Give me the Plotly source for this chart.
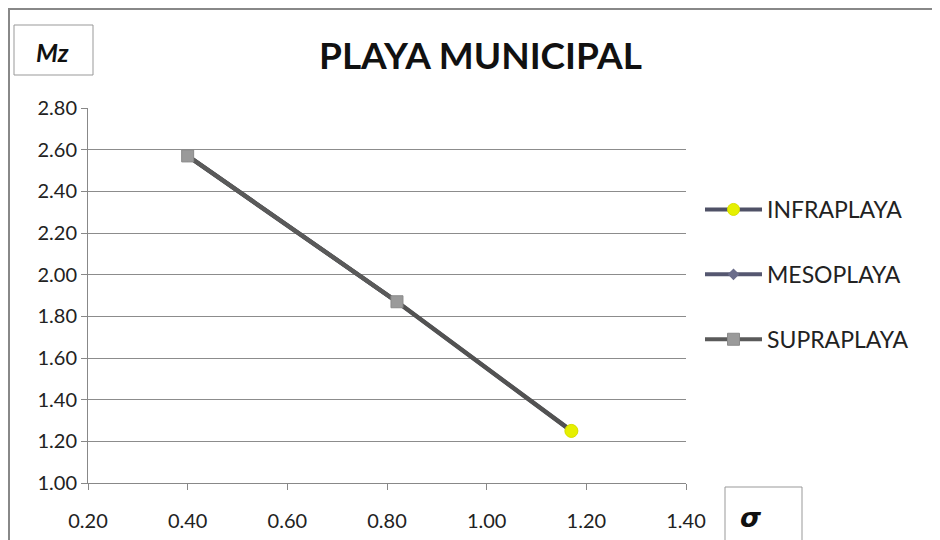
import plotly.graph_objects as go

# Data
sigma_infra = [1.17]
mz_infra = [1.25]
sigma_meso = [0.40, 0.82, 1.17]
mz_meso = [2.57, 1.87, 1.25]
sigma_supra = [0.40, 0.82]
mz_supra = [2.57, 1.87]
x_ticks = [0.20, 0.40, 0.60, 0.80, 1.00, 1.20, 1.40]
y_ticks = [1.00, 1.20, 1.40, 1.60, 1.80, 2.00, 2.20, 2.40, 2.60, 2.80]

OFF = 8  # page body margin
W, H = 940 - OFF, 540 - OFF
L, R, T, B = 88 - OFF, 254, 108 - OFF, 57
PW, PH = W - L - R, H - T - B

def px(x):
    return (x - OFF - L) / PW

def py(y):
    return (H - B - (y - OFF)) / PH

FONT = "Lato, Open Sans, sans-serif"

fig = go.Figure()
fig.add_trace(go.Scatter(
    x=sigma_infra, y=mz_infra, name="INFRAPLAYA", mode="lines+markers",
    legendgroup="a",
    line=dict(color="#4f5166", width=4),
    marker=dict(color="#e6f000", size=12, symbol="circle", line=dict(color="#d8e000", width=1))))
fig.add_trace(go.Scatter(
    x=sigma_meso, y=mz_meso, name="MESOPLAYA", mode="lines+markers",
    legendgroup="b",
    line=dict(color="#555770", width=4),
    marker=dict(color="#6a6c8a", size=9, symbol="diamond")))
# gray line over the full path
fig.add_trace(go.Scatter(
    x=sigma_meso, y=mz_meso, mode="lines", showlegend=False, hoverinfo="skip",
    line=dict(color="#525252", width=4.5)))
fig.add_trace(go.Scatter(
    x=sigma_supra, y=mz_supra, name="SUPRAPLAYA", mode="lines+markers",
    legendgroup="c",
    line=dict(color="#5a5a5a", width=4),
    marker=dict(color="#9a9a9a", size=12, symbol="square", line=dict(color="#8a8a8a", width=1))))
# keep infra marker on top
fig.add_trace(go.Scatter(
    x=sigma_infra, y=mz_infra, mode="markers", showlegend=False, hoverinfo="skip",
    marker=dict(color="#e6f000", size=13, symbol="circle", line=dict(color="#d8e000", width=1))))

shapes = [
    # outer border
    dict(type="line", xref="paper", yref="paper", x0=px(8), x1=px(940), y0=py(9), y1=py(9),
         line=dict(color="#888888", width=2)),
    dict(type="line", xref="paper", yref="paper", x0=px(9), x1=px(9), y0=py(8), y1=py(540),
         line=dict(color="#888888", width=2)),
    # Mz box
    dict(type="rect", xref="paper", yref="paper", x0=px(14), x1=px(93), y0=py(25), y1=py(75),
         line=dict(color="#999999", width=1), fillcolor="white"),
    # sigma box
    dict(type="rect", xref="paper", yref="paper", x0=px(725), x1=px(802), y0=py(487), y1=py(545),
         line=dict(color="#999999", width=1), fillcolor="white"),
]

annotations = [
    dict(text="<b>PLAYA MUNICIPAL</b>", xref="paper", yref="paper", x=px(480), y=py(54),
         showarrow=False, xanchor="center", yanchor="middle",
         font=dict(family=FONT, size=37, color="#111111")),
    dict(text="<b><i>Mz</i></b>", xref="paper", yref="paper", x=px(52), y=py(52),
         showarrow=False, xanchor="center", yanchor="middle",
         font=dict(family=FONT, size=25, color="#111111")),
    dict(text="<b><i>σ</i></b>", xref="paper", yref="paper", x=px(751), y=py(517),
         showarrow=False, xanchor="center", yanchor="middle",
         font=dict(family="DejaVu Sans, sans-serif", size=27, color="#111111")),
]

fig.update_layout(
    width=W, height=H,
    margin=dict(l=L, r=R, t=T, b=B, autoexpand=False),
    paper_bgcolor="white", plot_bgcolor="white",
    font=dict(family=FONT, size=18, color="#222222"),
    shapes=shapes, annotations=annotations,
    legend=dict(x=px(700), y=py(188), xanchor="left", yanchor="top",
                font=dict(family=FONT, size=23, color="#222222"),
                tracegroupgap=32, itemwidth=57, bgcolor="rgba(0,0,0,0)"),
    xaxis=dict(range=[0.20, 1.40], tickvals=x_ticks, automargin=False,
               ticktext=[f"{v:.2f}" for v in x_ticks],
               showgrid=False, zeroline=False, showline=True, linecolor="#888888", linewidth=1,
               ticks="outside", ticklen=6, tickcolor="#888888", ticklabelstandoff=14,
               tickfont=dict(family=FONT, size=20, color="#222222")),
    yaxis=dict(range=[1.00, 2.80], tickvals=y_ticks, automargin=False,
               ticktext=[f"{v:.2f}" for v in y_ticks],
               showgrid=True, gridcolor="#8c8c8c", gridwidth=1, zeroline=False,
               showline=True, linecolor="#888888", linewidth=1,
               ticks="outside", ticklen=6, tickcolor="#888888",
               tickfont=dict(family=FONT, size=20, color="#222222")),
)

fig.write_html("out.html")
